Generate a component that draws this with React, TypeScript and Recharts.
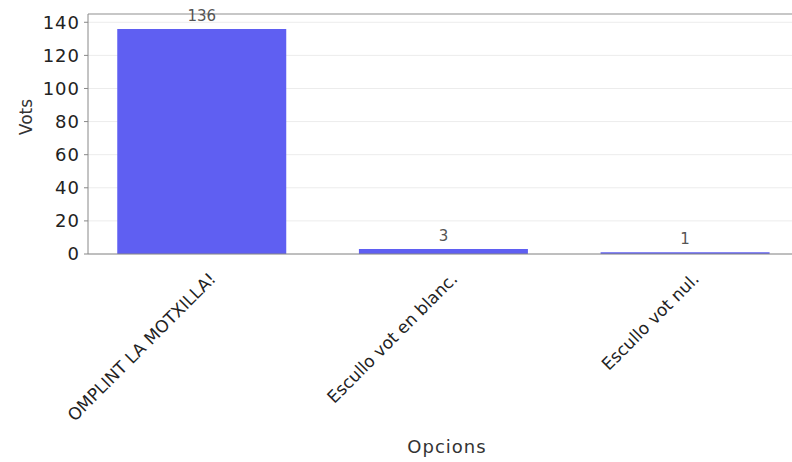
import React from 'react';
import { BarChart, Bar, XAxis, YAxis, CartesianGrid, LabelList, Label, ReferenceLine } from 'recharts';

const categories = ['OMPLINT LA MOTXILLA!', 'Escullo vot en blanc.', 'Escullo vot nul.'];
const votes = [136, 3, 1];
const yTicks = [0, 20, 40, 60, 80, 100, 120, 140];

const data = categories.map((name, i) => ({ name, vots: votes[i] }));

const FONT = '"DejaVu Sans", sans-serif';

const CategoryTick = ({ x, y, payload }: any) => {
  const tx = x + 15;
  const ty = y + 26;
  return (
    <text
      x={tx}
      y={ty}
      transform={`rotate(-45 ${tx} ${ty})`}
      textAnchor="end"
      fontSize={17}
      fontFamily={FONT}
      fill="#222"
    >
      {payload.value}
    </text>
  );
};

const App: React.FC = () => {
  return (
    <div style={{ position: 'absolute', left: 0, top: 0, width: 792, height: 462, overflow: 'hidden', background: '#fff' }}>
      <BarChart
        width={806}
        height={462}
        data={data}
        margin={{ top: 14, right: 0, bottom: 0, left: 0 }}
        barCategoryGap="15%"
      >
        <CartesianGrid vertical={false} stroke="#ececec" />
        <XAxis
          dataKey="name"
          height={208}
          padding={{ left: -7, right: 0 }}
          tickLine={false}
          tickSize={0}
          tickMargin={0}
          interval={0}
          stroke="#888"
          tick={<CategoryTick />}
        >
          <Label
            value="Opcions"
            position="insideBottom"
            offset={9}
            style={{ fontSize: 18, fontFamily: FONT, fill: '#333', letterSpacing: 1 }}
          />
        </XAxis>
        <YAxis
          width={88}
          domain={[0, 145]}
          ticks={yTicks}
          allowDataOverflow
          stroke="#888"
          tickSize={4}
          tickMargin={4}
          tick={{ fontSize: 18, fontFamily: FONT, fill: '#222', letterSpacing: 1 }}
        >
          <Label
            content={() => (
              <text
                x={32}
                y={117}
                transform="rotate(-90 32 117)"
                textAnchor="middle"
                fontSize={17}
                fontFamily={FONT}
                fill="#333"
              >
                Vots
              </text>
            )}
          />
        </YAxis>
        <ReferenceLine y={145} stroke="#999" />
        <Bar dataKey="vots" fill="#5f5ff2" isAnimationActive={false}>
          <LabelList
            dataKey="vots"
            position="top"
            offset={8}
            style={{ fontSize: 15, fontFamily: FONT, fill: '#555' }}
          />
        </Bar>
      </BarChart>
    </div>
  );
};

export default App;
